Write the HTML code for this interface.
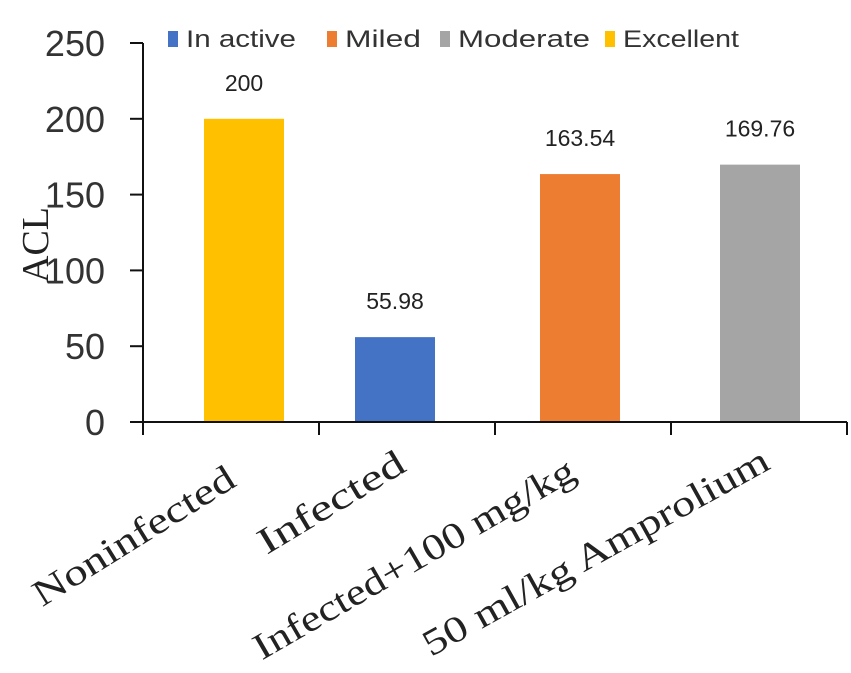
<!DOCTYPE html>
<html><head><meta charset="utf-8"><style>
html,body{margin:0;padding:0;background:#fff;}
svg{display:block;}
</style></head><body>
<svg id="chart" width="851" height="673" viewBox="0 0 851 673" xmlns="http://www.w3.org/2000/svg">
<g id="legend"></g>
<g id="yaxis"></g>
<g id="bars"></g>
<g id="xaxis"></g>
<text x="0" y="0" transform="translate(48,245) rotate(-90)" text-anchor="middle" font-family="Liberation Serif, serif" font-size="38" fill="#222">ACL</text>
</svg>
<script>
const categories = ["Noninfected", "Infected", "Infected+100 mg/kg", "50 ml/kg Amprolium"];
const values = [200, 55.98, 163.54, 169.76];
const valueLabels = ["200", "55.98", "163.54", "169.76"];
const barColors = ["#FFC000", "#4472C4", "#ED7D31", "#A5A5A5"];
const yTicks = [0, 50, 100, 150, 200, 250];
const legendNames = ["In active", "Miled", "Moderate", "Excellent"];
const legendColors = ["#4472C4", "#ED7D31", "#A5A5A5", "#FFC000"];

const NS = "http://www.w3.org/2000/svg";
const x0 = 143, x1 = 847, y0 = 422, yTop = 43, yMax = 250;
const band = (x1 - x0) / categories.length;
const barW = 80;
const barShift = [13, -12, -3, 1];
function yScale(v){ return y0 - (v / yMax) * (y0 - yTop); }
function xCenter(i){ return x0 + band * (i + 0.5); }
function mk(tag, attrs, parent){ const e = document.createElementNS(NS, tag); for (const k in attrs) e.setAttribute(k, attrs[k]); parent.appendChild(e); return e; }

const yaxis = document.getElementById('yaxis');
const ya = mk('line', {x1:x0, y1:yTop, x2:x0, y2:y0+10, stroke:'#111', 'stroke-width':2}, yaxis);


yTicks.forEach(t => {
  const y = yScale(t);
  const tk = mk('line', {x1:x0-13, y1:y, x2:x0, y2:y, stroke:'#111', 'stroke-width':2}, yaxis);
  
  
  const lb = mk('text', {x:105, y:y+13, 'text-anchor':'end', 'font-family':'Liberation Sans, sans-serif', 'font-size':36, fill:'#333'}, yaxis);
  
  
  lb.textContent = t;
});

const bars = document.getElementById('bars');
values.forEach((v, i) => {
  const cx = xCenter(i) + barShift[i];
  const r = mk('rect', {x:cx-barW/2, y:yScale(v), width:barW, height:y0-yScale(v), fill:barColors[i]}, bars);
  
  
  const t = mk('text', {x:cx, y:yScale(v)-28, 'text-anchor':'middle', 'font-family':'Liberation Sans Narrow, Liberation Sans, sans-serif', 'font-size':23, fill:'#222'}, bars);
  
  
  t.textContent = valueLabels[i];
});

const xaxis = document.getElementById('xaxis');
const xa = mk('line', {x1:x0-13, y1:y0, x2:x1, y2:y0, stroke:'#111', 'stroke-width':2}, xaxis);


for (let i = 0; i <= categories.length; i++) {
  const x = x0 + band * i;
  const tk = mk('line', {x1:x, y1:y0, x2:x, y2:y0+13, stroke:'#111', 'stroke-width':2}, xaxis);
  
  
}
const labelLens = [231, 165, 365, 390];
const labelEndX = [238, 408, 578, 772];
const labelEndY = [485, 470, 478, 468];
const labelAng = [32, 31, 30, 29];
categories.forEach((c, i) => {
  const t = mk('text', {x:0, y:0, 'text-anchor':'end', transform:`translate(${labelEndX[i]},${labelEndY[i]}) rotate(-${labelAng[i]})`, 'font-family':'Liberation Serif, serif', 'font-size':37, fill:'#222', textLength:labelLens[i], lengthAdjust:'spacingAndGlyphs'}, xaxis);
  
  
  t.textContent = c;
});

const legend = document.getElementById('legend');
const legX = [168, 327, 440, 605];
const legW = [110, 76, 132, 116];
legendNames.forEach((n, i) => {
  const s = mk('rect', {x:legX[i], y:31, width:10, height:16, fill:legendColors[i]}, legend);
  
  
  const t = mk('text', {x:legX[i]+18, y:47, 'font-family':'Liberation Sans Narrow, Liberation Sans, sans-serif', 'font-size':24, fill:'#333', textLength:legW[i], lengthAdjust:'spacingAndGlyphs'}, legend);
  
  
  t.textContent = n;
});
</script>
</body></html>
